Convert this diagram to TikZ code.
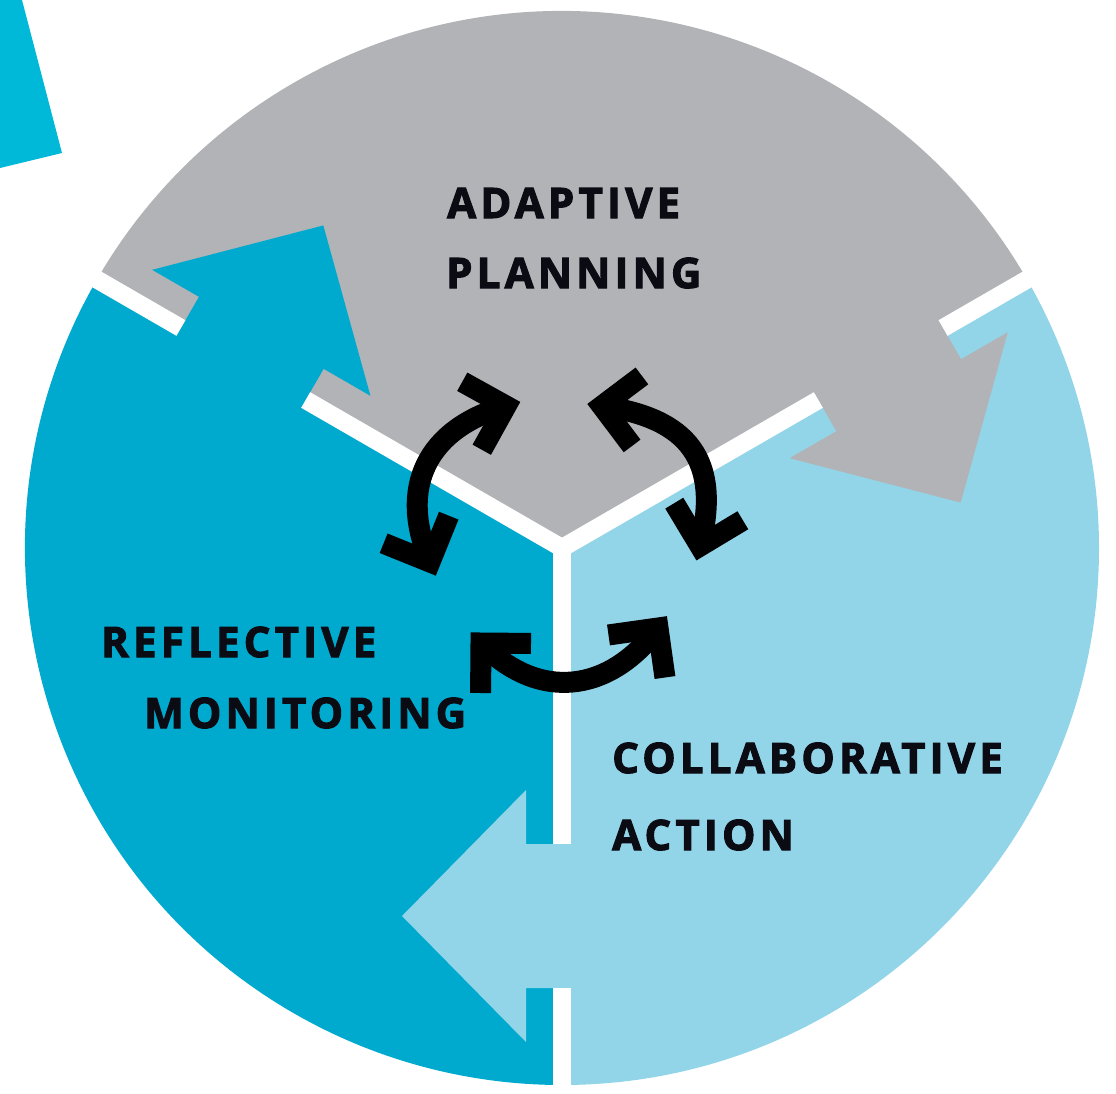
\documentclass[tikz,border=0pt]{standalone}
\usepackage{fontspec}
\newfontfamily\labfont[LetterSpace=10, BoldFeatures={FakeBold=2.5}]{Open Sans}
\usetikzlibrary{calc}
\definecolor{cgray}{HTML}{B1B3B6}
\definecolor{cteal}{HTML}{00A9CE}
\definecolor{clight}{HTML}{93D5E8}
\definecolor{ccyan}{HTML}{00B9D9}
\definecolor{ctext}{HTML}{0B0B14}
\newcommand\blockarrow[2]{%
  \fill[#2] ($(hub)+(#1:296)+(#1-90:-40)$) -- ($(hub)+(#1:296)+(#1-90:36)$)
    -- ($(hub)+(#1:242)+(#1-90:36)$) -- ($(hub)+(#1:368)+(#1-90:160)$)
    -- ($(hub)+(#1:494)+(#1-90:36)$) -- ($(hub)+(#1:440)+(#1-90:36)$)
    -- ($(hub)+(#1:440)+(#1-90:-40)$) -- cycle;}
\newcommand\chev[2]{%
  \draw[arrowline, line join=miter] ($(#1)+(#2+135:50)$) -- (#1) -- ($(#1)+(#2-135:50)$);}
\begin{document}
\begin{tikzpicture}[x=1pt,y=1pt,
  sepline/.style={white, line width=18pt},
  arrowline/.style={black, line width=21pt},
  lbltext/.style={font=\labfont\bfseries\fontsize{42}{50}\selectfont, text=ctext, anchor=base west, inner sep=0pt}]
\fill[white] (0,0) rectangle (1116,-1093);
\useasboundingbox (0,0) rectangle (1116,-1093);
\coordinate (hub) at (562,-548);
\def\R{537}
% corner piece
\fill[ccyan] (0,0) -- (22,0) -- (62,-153) -- (0,-168) -- cycle;
% sectors
\fill[cgray] (hub) -- ($(hub)+(30:\R)$) arc[start angle=30,end angle=150,radius=\R] -- cycle;
\fill[clight] (hub) -- ($(hub)+(-90:\R)$) arc[start angle=-90,end angle=30,radius=\R] -- cycle;
\fill[cteal] (hub) -- ($(hub)+(150:\R)$) arc[start angle=150,end angle=270,radius=\R] -- cycle;
% block arrows
\blockarrow{150}{cteal}
\blockarrow{30}{cgray}
\blockarrow{270}{clight}
% separators
\foreach \a in {30,150,270} {
  \draw[sepline] (hub) -- ($(hub)+(\a:296)$);
  \draw[sepline] ($(hub)+(\a:440)$) -- ($(hub)+(\a:545)$);
}
\fill[white] ($(hub)+(90:10.4)$) -- ($(hub)+(210:10.4)$) -- ($(hub)+(330:10.4)$) -- cycle;
% curved double arrows
\coordinate (l1) at (506,-406);
\coordinate (l2) at (430,-562);
\coordinate (r1) at (602,-406);
\coordinate (r2) at (700,-546);
\coordinate (b1) at (481,-643);
\coordinate (b2) at (658,-628);
\draw[arrowline] (l1) .. controls +(196:82) and +(113:82) .. (l2);
\draw[arrowline] (r1) .. controls +(-8:88) and +(76:88) .. (r2);
\draw[arrowline] (b1) .. controls +(314.5:82) and +(233:82) .. (b2);
\chev{l1}{16}
\chev{l2}{-67}
\chev{r1}{172}
\chev{r2}{-104}
\chev{b1}{134.5}
\chev{b2}{53}
% labels
\node[lbltext] (ap1) at (447,-218) {ADAPTIVE};
\node[lbltext] (ap2) at (446,-288) {PLANNING};
\node[lbltext] (rm1) at (101,-657) {REFLECTIVE};
\node[lbltext] (rm2) at (144,-728) {MONITORING};
\node[lbltext] (ca1) at (612,-773) {COLLABORATIVE};
\node[lbltext] (ca2) at (612,-850) {ACTION};
\end{tikzpicture}
\end{document}
